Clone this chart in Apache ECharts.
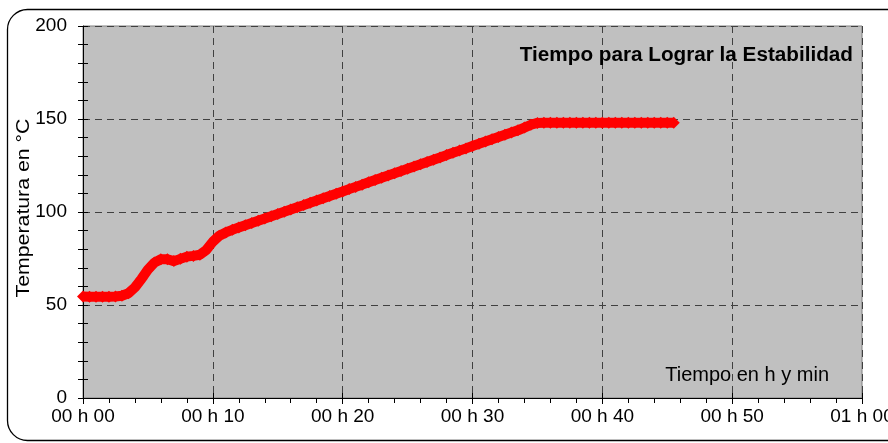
<!DOCTYPE html>
<html><head><meta charset="utf-8">
<script src="https://cdn.jsdelivr.net/npm/echarts@6/dist/echarts.min.js"></script>
<style>html,body{margin:0;padding:0;background:#fff;overflow:hidden}#c{width:888px;height:443px}</style>
</head><body><div id="c"></div>
<script>
// Elapsed time in minutes
const timeMin = [
  0, 0.5, 1, 1.5, 2, 2.5, 3, 3.5, 4, 4.5, 5, 5.5, 6, 6.5, 7, 7.5, 8, 8.5, 9, 9.5,
  10, 10.5, 11, 11.5, 12, 12.5, 13, 13.5, 14, 14.5, 15, 15.5, 16, 16.5, 17, 17.5, 18, 18.5, 19, 19.5,
  20, 20.5, 21, 21.5, 22, 22.5, 23, 23.5, 24, 24.5, 25, 25.5, 26, 26.5, 27, 27.5, 28, 28.5, 29, 29.5,
  30, 30.5, 31, 31.5, 32, 32.5, 33, 33.5, 34, 34.5, 35, 35.5, 36, 36.5, 37, 37.5, 38, 38.5, 39, 39.5,
  40, 40.5, 41, 41.5, 42, 42.5, 43, 43.5, 44, 44.5, 45, 45.5
];
// Temperature in °C
const tempC = [
  54.6, 54.5, 54.4, 54.5, 54.5, 54.6, 55.0, 56.3, 59.5, 64.0, 69.0, 72.8, 74.6, 74.6, 73.6, 74.8, 76.0, 76.4, 77.0, 79.6,
  84.0, 87.2, 89.0, 90.4, 91.7, 92.9, 94.1, 95.3, 96.5, 97.7, 98.9, 100.1, 101.3, 102.5, 103.7, 105.0, 106.2, 107.4, 108.6, 109.8,
  111.0, 112.3, 113.5, 114.7, 116.0, 117.2, 118.4, 119.6, 120.8, 122.0, 123.3, 124.5, 125.7, 126.9, 128.1, 129.3, 130.6, 131.8, 133.0, 134.2,
  135.5, 136.7, 137.9, 139.1, 140.3, 141.5, 142.7, 143.9, 145.4, 146.9, 147.9, 148.0, 148.0, 148.0, 148.0, 148.0, 148.0, 148.0, 148.0, 148.0,
  148.0, 148.0, 148.0, 148.0, 148.0, 148.0, 148.0, 148.0, 148.0, 148.0, 148.0, 148.0
];
const xTickLabels = ['00 h 00', '00 h 10', '00 h 20', '00 h 30', '00 h 40', '00 h 50', '01 h 00'];
const yTickLabels = ['0', '50', '100', '150', '200'];
const chartTitle = 'Tiempo para Lograr la Estabilidad';
const xAxisTitle = 'Tiempo en h y min';
const yAxisTitle = 'Temperatura en °C';

const FONT = 'Liberation Sans, Arial, sans-serif';
const chart = echarts.init(document.getElementById('c'), null, {renderer: 'canvas'});

const gridLine = {show: true, lineStyle: {color: '#404040', width: 1, type: [7, 5]}};

chart.setOption({
  animation: false,
  backgroundColor: '#ffffff',
  grid: {left: 83, right: 26, top: 26, bottom: 45, outerBoundsMode: 'none', containLabel: false,
    show: true, backgroundColor: '#c0c0c0', borderColor: '#808080', borderWidth: 1},
  xAxis: [
    {
      type: 'value', min: 0, max: 60, interval: 10, position: 'bottom',
      axisLine: {show: true, onZero: false, lineStyle: {color: '#000', width: 1}},
      axisTick: {show: true, inside: false, length: 6, lineStyle: {color: '#000'}},
      minorTick: {show: true, splitNumber: 5, length: 5, lineStyle: {color: '#000'}},
      axisLabel: {color: '#000', fontSize: 19, fontFamily: FONT, margin: 9,
        formatter: v => xTickLabels[Math.round(v / 10)]},
      splitLine: gridLine
    },
    {
      type: 'value', min: 0, max: 60, interval: 10, position: 'bottom',
      axisLine: {show: false},
      axisTick: {show: true, inside: true, length: 5, lineStyle: {color: '#000'}},
      axisLabel: {show: false}, splitLine: {show: false}
    }
  ],
  yAxis: [
    {
      type: 'value', min: 0, max: 200, interval: 50, position: 'left',
      axisLine: {show: true, onZero: false, lineStyle: {color: '#000', width: 1}},
      axisTick: {show: true, inside: false, length: 5, lineStyle: {color: '#000'}},
      minorTick: {show: true, splitNumber: 5, length: 5, lineStyle: {color: '#000'}},
      axisLabel: {color: '#000', fontSize: 19, fontFamily: FONT, margin: 16,
        formatter: v => yTickLabels[Math.round(v / 50)]},
      splitLine: gridLine
    },
    {
      type: 'value', min: 0, max: 200, interval: 50, position: 'left',
      axisLine: {show: false},
      axisTick: {show: true, inside: true, length: 5, lineStyle: {color: '#000'}},
      minorTick: {show: true, splitNumber: 5, length: 5, lineStyle: {color: '#000'}},
      axisLabel: {show: false}, splitLine: {show: false}
    }
  ],
  series: [{
    type: 'line', xAxisIndex: 0, yAxisIndex: 0,
    data: timeMin.map((t, i) => [t, tempC[i]]),
    showAllSymbol: true, symbol: 'diamond', symbolSize: 12,
    itemStyle: {color: '#ff0000'},
    lineStyle: {color: '#ff0000', width: 10},
    z: 5
  }],
  graphic: [
    {type: 'rect', z: 100, silent: true,
      shape: {x: 7.5, y: 9.5, width: 900, height: 431, r: 20},
      style: {fill: 'none', stroke: '#000', lineWidth: 1.3}},
    {type: 'text', z: 100, x: 853, y: 55, scaleX: 1.035,
      style: {text: chartTitle, fill: '#000', font: 'bold 20px ' + FONT, align: 'right', verticalAlign: 'middle'}},
    {type: 'text', z: 100, x: 829, y: 375,
      style: {text: xAxisTitle, fill: '#000', font: '20px ' + FONT, align: 'right', verticalAlign: 'middle'}},
    {type: 'text', z: 100, x: 24, y: 208, rotation: Math.PI / 2, scaleX: 1.12,
      style: {text: yAxisTitle, fill: '#000', font: '19px ' + FONT, align: 'center', verticalAlign: 'middle'}}
  ]
});
</script>
</body></html>
